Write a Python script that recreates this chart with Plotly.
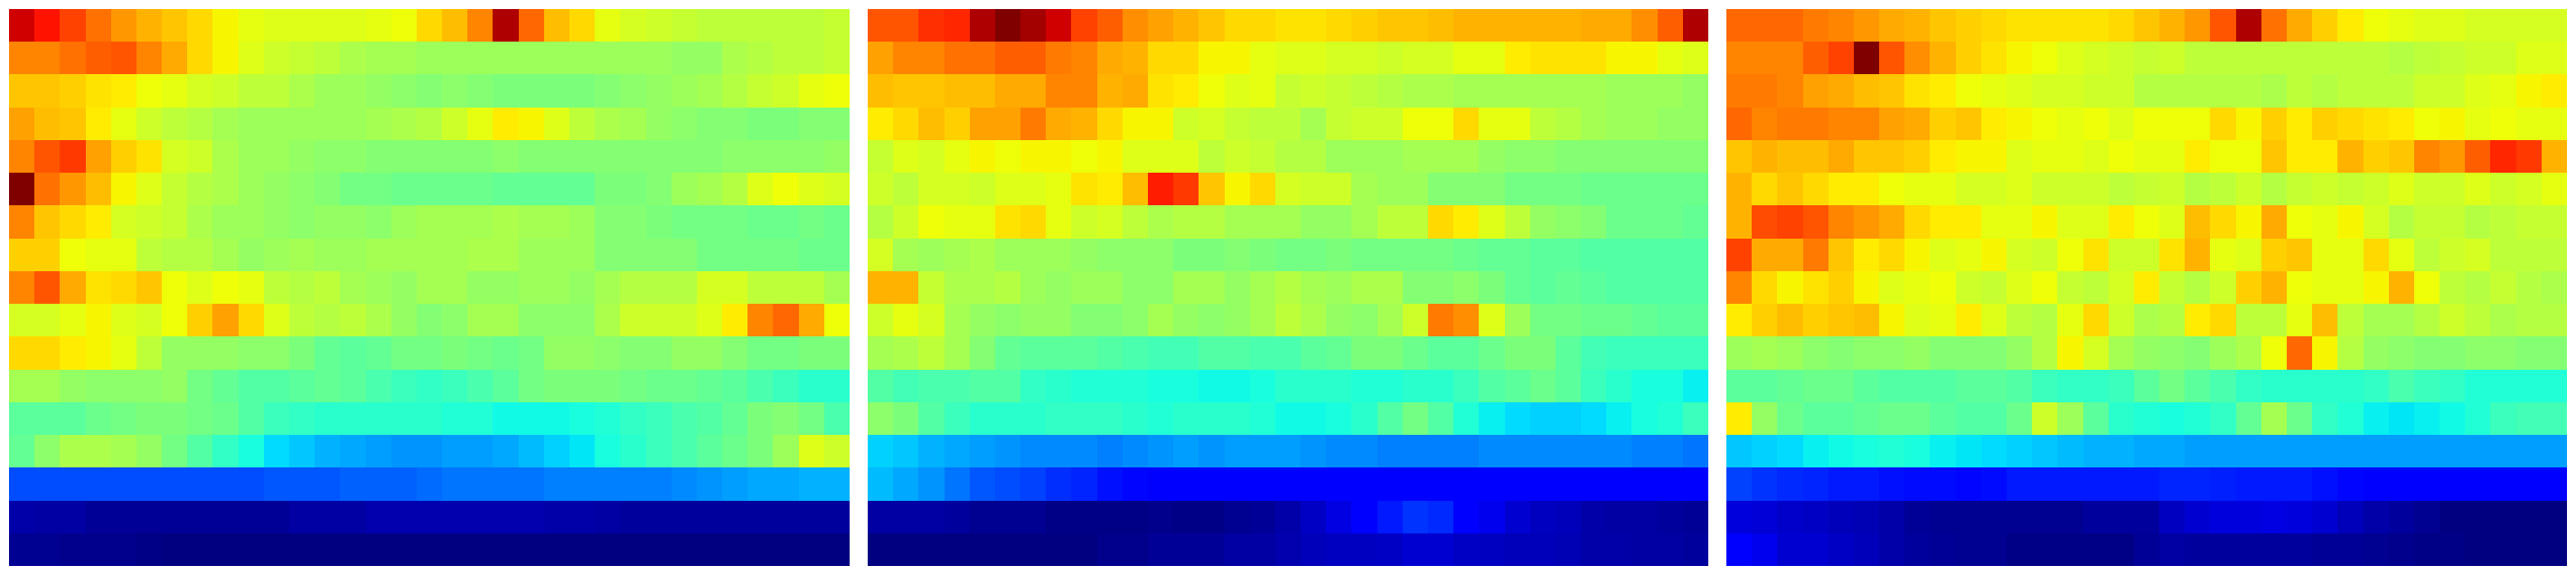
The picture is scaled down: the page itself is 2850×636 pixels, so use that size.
import plotly.graph_objects as go

W, H = 2850, 636
panel_left = [
[93,89,84,79,75,72,70,68,65,63,62,62,62,62,63,64,68, 71,77,96,80,71,68,63,61,60,59,58,58,58,58,58,59],
[77,77,79,81,82,77,73,68,65,62,60,59,58,56,55,55,54, 54,54,54,54,54,54,54,54,54,53,53,56,57,58,58,59],
[70,70,69,67,66,64,63,61,60,58,58,56,54,54,53,52,51, 52,51,50,50,50,50,51,52,53,54,55,57,59,60,63,64],
[74,71,70,66,63,60,58,57,55,54,54,54,54,54,55,56,57, 60,63,66,65,62,58,56,55,53,52,51,51,50,50,51,51],
[77,82,85,74,69,67,61,60,56,54,54,53,52,52,51,51,51, 51,51,52,51,51,51,51,51,51,51,51,52,52,52,52,53],
[100,79,75,71,65,62,59,57,56,54,53,52,51,49,49,48,48, 48,48,47,47,47,47,50,50,51,54,55,57,62,64,62,61],
[77,70,68,66,61,60,59,56,54,54,53,52,53,53,52,54,55, 55,55,56,55,55,54,51,51,50,49,49,49,48,48,49,48],
[69,69,64,63,63,58,57,57,55,53,54,55,54,54,55,55,55, 55,56,56,54,54,54,51,51,51,51,49,49,49,49,48,48],
[77,82,73,67,68,70,64,62,64,63,58,57,58,55,54,53,55, 55,53,53,54,54,53,55,57,57,57,61,61,58,58,58,55],
[61,61,63,65,62,61,64,69,74,68,62,58,57,58,56,53,51, 52,55,55,52,52,52,56,60,60,60,62,66,77,80,73,64],
[68,68,66,65,63,58,53,53,53,52,52,50,47,46,47,49,49, 50,49,48,49,53,53,52,51,51,53,53,51,49,49,50,50],
[55,55,53,52,52,52,53,49,47,45,45,46,47,46,44,42,41, 42,44,46,49,50,50,50,49,48,48,47,46,44,42,40,40],
[46,46,46,48,49,50,50,49,48,45,42,41,40,40,40,40,40, 39,39,37,37,37,38,39,41,42,44,45,47,50,51,49,44],
[47,52,56,56,55,53,49,45,41,38,34,32,30,29,28,27,27, 28,28,29,31,33,35,38,40,42,44,46,48,50,54,62,60],
[20,20,20,20,20,20,20,20,20,20,21,21,21,22,22,22,23, 24,24,24,24,25,25,25,25,25,26,27,28,29,29,30,30],
[3.5,3,3,2,2,2,2,2,2,2,2,3,3,3,4,4,4, 4,4,4,4,3.5,3.5,3,2.5,2.5,2.5,2.5,2.5,2.5,2.5,2.5,2.5],
[1.5,1.5,1,1,1,.5,0,0,0,0,0,0,0,0,0,0,0, 0,0,0,0,0,0,0,0,0,0,0,0,0,0,0,0],
]
panel_middle = [
[82,82,86,87,96,100,97,93,84,81,76,74,72,70,68,68,67, 67,68,69,70,70,71,72,72,72,72,72,73,73,76,81,96],
[74,77,77,79,79,81,81,78,77,73,72,68,68,65,65,63,62, 62,61,61,60,61,61,63,63,66,67,67,67,65,65,63,62],
[71,70,70,71,71,73,73,77,77,72,73,67,66,64,62,63,59, 60,59,58,57,56,56,55,55,55,55,55,55,54,54,54,53],
[66,68,71,69,74,74,78,73,72,68,65,65,60,61,59,58,58, 55,59,60,60,64,64,68,63,63,58,57,55,54,54,53,53],
[59,62,61,63,65,64,65,65,64,65,62,62,62,58,60,59,57, 57,54,54,54,55,55,55,53,52,52,51,51,51,51,51,51],
[60,58,61,61,60,62,62,63,67,66,71,88,85,70,65,68,61, 60,60,55,54,54,51,51,51,49,49,49,48,48,48,48,48],
[57,60,64,63,63,67,68,63,60,61,58,56,57,57,55,55,55, 53,53,55,58,58,68,66,62,58,53,52,51,48,48,48,47],
[61,55,54,55,56,54,54,54,53,52,52,52,50,50,51,50,49, 49,50,49,49,49,49,48,47,47,46,46,45,45,45,45,45],
[72,72,59,56,56,57,54,53,54,54,52,52,55,55,53,55,57, 55,54,56,56,51,51,52,50,47,46,47,46,45,45,45,45],
[60,63,61,55,53,52,53,53,51,51,52,55,53,52,53,55,58, 56,53,52,55,60,78,76,62,54,49,49,48,48,47,46,46],
[55,56,58,55,51,47,46,46,46,45,44,43,43,45,45,44,44, 46,47,50,50,48,46,46,48,50,50,46,43,42,42,42,42],
[45,43,44,44,45,45,41,40,39,39,39,38,38,37,37,38,40, 40,40,39,39,40,40,42,45,46,48,46,42,40,38,38,36],
[52,50,45,42,40,40,40,41,41,41,40,39,40,40,40,39,37, 37,38,40,45,49,45,39,36,34,33,33,34,36,38,39,42],
[33,32,30,29,28,27,26,26,26,25,26,27,28,27,28,28,28, 27,26,26,25,25,25,25,26,26,26,26,26,26,25,25,24],
[31,29,27,24,21,20,19,17,16,14,13,12,12,12,12,12,12, 12,12,12,12,12,12,12,12,12,12,12,12,12,12,12,12],
[3,3,3,2.5,1.5,1.5,1.5,.5,.5,.5,.5,1,.5,.5,1.5,2,3.5, 6,8.5,11,15,17.5,16.5,11.5,9.5,7,5.5,5,3.5,3,3,2.5,2],
[0,0,0,0,0,0,0,0,0,1,1,2,2,2,3,3,4, 5,5.5,5.5,6,7,7,6,5.5,5,5,4.5,3.5,3.5,3,3,2.5],
]
panel_right = [
[80,80,80,78,77,75,73,72,70,69,68,67,67,67,67,68,70, 72,75,82,96,79,73,69,66,64,63,62,62,61,61,61,61],
[77,77,77,81,84,100,82,76,72,69,67,65,64,62,61,60,59, 60,58,58,58,58,58,58,58,58,57,58,59,60,60,62,62],
[78,78,77,74,73,71,70,67,66,64,63,62,61,61,60,60,57, 57,57,57,57,56,58,57,58,58,58,60,60,62,63,65,66],
[80,77,78,78,77,77,74,73,69,70,66,65,64,63,64,62,64, 64,64,68,65,69,66,69,68,67,66,64,65,63,64,63,63],
[70,72,71,71,73,70,70,69,66,65,65,62,63,63,62,64,63, 63,66,64,64,70,66,66,72,69,70,77,75,81,87,85,72],
[72,68,70,68,66,66,64,63,63,61,61,62,60,60,60,58,59, 60,57,58,60,57,59,60,59,60,62,60,60,62,60,61,63],
[72,83,84,82,77,75,73,68,66,66,63,63,65,62,62,66,64, 62,71,68,65,73,64,63,65,61,57,59,59,57,58,59,59],
[84,73,73,78,70,66,68,65,62,63,65,61,60,64,67,60,60, 67,72,63,62,69,70,63,63,68,63,58,60,61,58,58,58],
[77,68,65,67,69,65,62,63,64,60,59,62,64,59,58,61,66, 59,57,60,69,72,64,63,63,65,72,64,58,57,59,57,56],
[66,69,71,69,70,71,65,62,63,66,62,58,57,63,68,60,56, 57,66,68,58,58,63,71,58,55,55,57,60,58,56,57,57],
[54,55,54,52,51,52,52,53,51,51,51,53,57,65,61,55,53, 52,51,54,56,64,80,65,57,53,52,51,51,52,52,51,51],
[46,46,47,48,48,46,45,45,45,46,46,45,42,41,41,42,46, 49,46,44,41,40,40,40,40,41,44,42,41,39,39,39,39],
[66,53,48,46,46,47,48,48,46,45,45,48,60,54,46,40,39, 38,39,41,47,55,48,41,39,36,35,36,37,39,42,43,43],
[32,33,34,36,37,38,39,38,36,35,34,33,32,31,30,30,29, 29,28,28,28,28,28,28,28,28,28,28,28,28,28,28,28],
[19,17.5,16.5,16,15,15,14,13.5,13.5,13,13.5,15,15,15,15,15,15, 16,16,15.5,15,15,15,14,13,12,12,12,12,12,12,12,12],
[8,7.5,6.5,6,5,4.5,3.5,2,1.5,1.5,1.5,1.5,1.5,1.5,2.5,2.5,2.5, 5.5,7,8,8,8.5,8,7,5,3.5,2.5,1.5,0,0,0,0,0],
[11,9.5,7,7,6,5,3.5,2.5,2,1.5,1.5,.5,.5,.5,.5,.5,2, 3,2.5,2.5,2.5,2.5,2.5,2,2,1.5,1,.5,.5,0,0,0,0],
]
panels = [panel_left, panel_middle, panel_right]
for p in panels:
    assert len(p) == 17
    for i, r in enumerate(p):
        assert len(r) == 33, (i, len(r))

jet = [
    [0, "rgb(0,0,128)"], [.11, "rgb(0,0,255)"], [.125, "rgb(0,0,255)"],
    [.34, "rgb(0,219,255)"], [.35, "rgb(0,230,247)"], [.375, "rgb(21,255,226)"],
    [.64, "rgb(238,255,8)"], [.65, "rgb(247,246,0)"], [.66, "rgb(255,236,0)"],
    [.89, "rgb(255,19,0)"], [.91, "rgb(232,0,0)"], [1, "rgb(128,0,0)"],
]

x_ranges = [(10, 940), (960, 1890), (1910, 2840)]
top, bottom = 10, 626

fig = go.Figure()
layout = {}
for i, (z, (x0, x1)) in enumerate(zip(panels, x_ranges)):
    s = "" if i == 0 else str(i + 1)
    fig.add_trace(go.Heatmap(z=z, zmin=0, zmax=100, colorscale=jet, showscale=False,
                             xaxis="x" + s, yaxis="y" + s, hoverinfo="skip"))
    layout["xaxis" + s] = dict(domain=[x0 / W, x1 / W], visible=False,
                               range=[-0.5, 32.5], anchor="y" + s)
    layout["yaxis" + s] = dict(domain=[1 - bottom / H, 1 - top / H], visible=False,
                               range=[16.5, -0.5], anchor="x" + s)
fig.update_layout(width=W, height=H, margin=dict(l=0, r=0, t=0, b=0),
                  paper_bgcolor="white", plot_bgcolor="white", showlegend=False, **layout)
fig.write_html("out.html", config={"displayModeBar": False},
               post_script="document.body.style.margin='0';document.body.style.overflow='hidden';")
